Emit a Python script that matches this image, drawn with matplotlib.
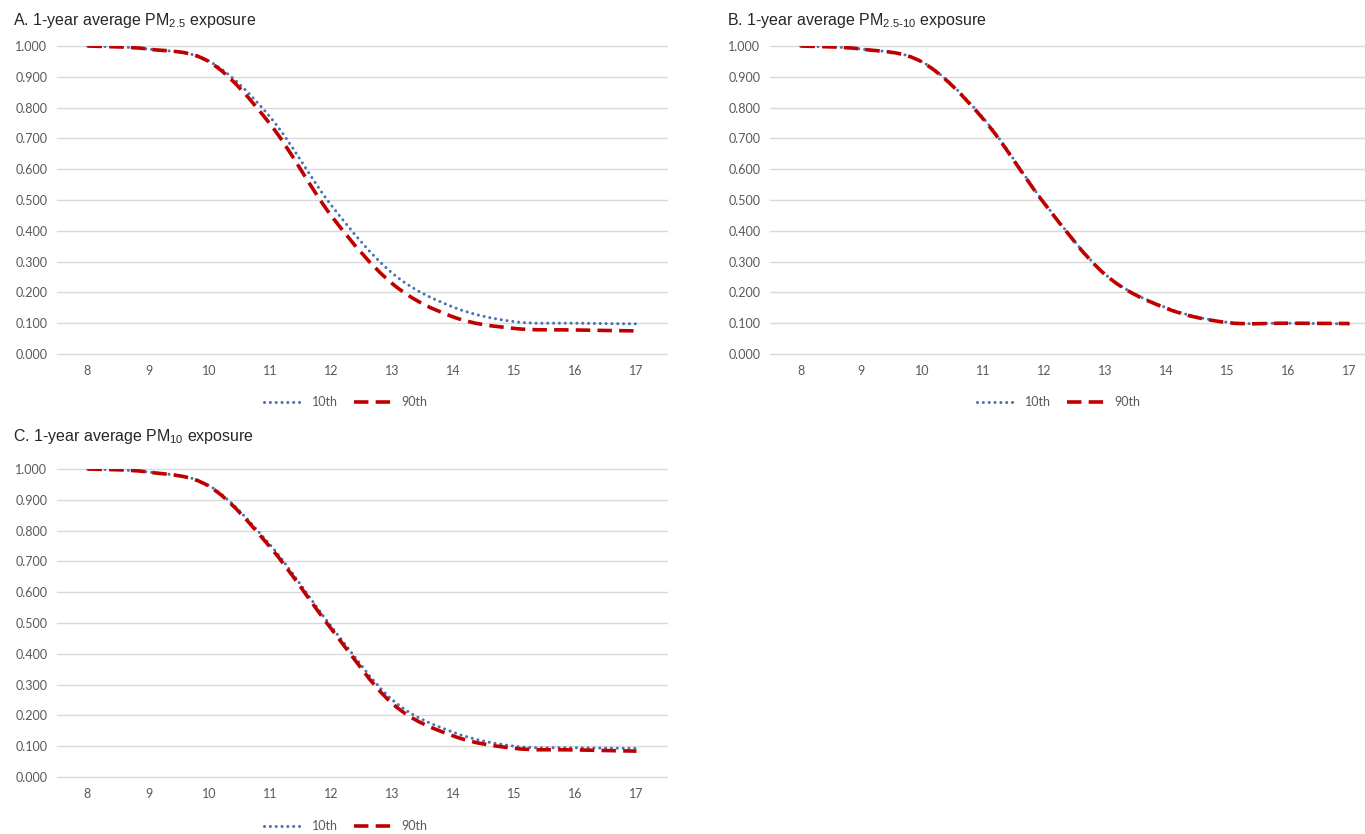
import matplotlib
matplotlib.use('Agg')
import matplotlib.pyplot as plt
from matplotlib.path import Path
from matplotlib.patches import PathPatch
from matplotlib.lines import Line2D

# exposure values (x axis) and survival-type curves for each pollutant
years = [8, 9, 10, 11, 12, 13, 14, 15, 16, 17]

pm25_p10 = [1.000, 0.990, 0.950, 0.768, 0.482, 0.262, 0.152, 0.105, 0.100, 0.098]
pm25_p90 = [1.000, 0.990, 0.948, 0.745, 0.448, 0.228, 0.120, 0.083, 0.078, 0.075]

pmc_p10 = [1.000, 0.990, 0.948, 0.765, 0.490, 0.258, 0.150, 0.103, 0.100, 0.098]
pmc_p90 = [1.000, 0.990, 0.947, 0.762, 0.488, 0.257, 0.148, 0.102, 0.100, 0.099]

pm10_p10 = [1.000, 0.990, 0.945, 0.752, 0.488, 0.250, 0.145, 0.100, 0.095, 0.093]
pm10_p90 = [1.000, 0.990, 0.943, 0.745, 0.480, 0.238, 0.133, 0.093, 0.088, 0.084]

titles = [r'A. 1-year average PM$_{\mathregular{2.5}}$ exposure',
          r'B. 1-year average PM$_{\mathregular{2.5\text{-}10}}$ exposure',
          r'C. 1-year average PM$_{\mathregular{10}}$ exposure']
series_names = ['10th', '90th']

blue = '#4A72B0'
red = '#C00000'
grid_col = '#D9D9D9'
tick_col = '#595959'
tick_font = 'Lato'
title_font = 'Liberation Sans'

W, H = 1365, 834

dot_style = dict(lw=2.2, ls=(0, (0.01, 1.9)))
dash_style = dict(lw=2.6, ls=(0, (4, 2)))


def smooth_path(x, y):
    # Bezier curve through the points, like a spreadsheet "smoothed line"
    n = len(x)
    verts = [(x[0], y[0])]
    codes = [Path.MOVETO]
    for i in range(n - 1):
        a = i - 1 if i > 0 else i
        b = i + 2 if i + 2 < n else i + 1
        c1 = (x[i] + (x[i + 1] - x[a]) / 6.0, y[i] + (y[i + 1] - y[a]) / 6.0)
        c2 = (x[i + 1] - (x[b] - x[i]) / 6.0, y[i + 1] - (y[b] - y[i]) / 6.0)
        verts += [c1, c2, (x[i + 1], y[i + 1])]
        codes += [Path.CURVE4] * 3
    return Path(verts, codes)


def draw_panel(ax, p10, p90):
    dots = PathPatch(smooth_path(years, p10), fill=False, ec=blue,
                     capstyle='round', **dot_style)
    dashes = PathPatch(smooth_path(years, p90), fill=False, ec=red,
                       capstyle='butt', **dash_style)
    ax.add_patch(dots)
    ax.add_patch(dashes)
    ax.set_xlim(7.5, 17.5)
    ax.set_ylim(0, 1.0)
    ax.set_xticks(years)
    ax.set_xticklabels([str(v) for v in years])
    ax.set_yticks([i / 10.0 for i in range(11)])
    ax.set_yticklabels(['%.3f' % (i / 10.0) for i in range(11)])
    ax.grid(axis='y', color=grid_col, lw=1.0)
    for gl in ax.get_ygridlines():
        gl.set_clip_on(False)
    ax.set_axisbelow(True)
    for s in ax.spines.values():
        s.set_visible(False)
    ax.tick_params(axis='both', length=0, colors=tick_col, labelsize=9)
    ax.tick_params(axis='y', pad=7)
    ax.tick_params(axis='x', pad=8)
    for lab in ax.get_xticklabels() + ax.get_yticklabels():
        lab.set_family(tick_font)


plt.rcParams['font.family'] = [title_font, 'DejaVu Sans']

fig = plt.figure(figsize=(W / 100.0, H / 100.0), dpi=100)
fig.patch.set_facecolor('white')

aw = 610.0 / W
ah = 308.0 / H
axA = fig.add_axes([57.0 / W, 1 - 354.0 / H, aw, ah])
axB = fig.add_axes([770.0 / W, 1 - 354.0 / H, aw, ah])
axC = fig.add_axes([57.0 / W, 1 - 777.0 / H, aw, ah])

draw_panel(axA, pm25_p10, pm25_p90)
draw_panel(axB, pmc_p10, pmc_p90)
draw_panel(axC, pm10_p10, pm10_p90)

# panel titles
title_pos = [(13, 21), (727, 21), (13, 437)]
for t, (tx, ty) in zip(titles, title_pos):
    fig.text(tx / W, 1 - ty / H, t, fontsize=11.5, color='#262626',
             family=title_font, ha='left', va='center')

# legends under each panel
handles = [Line2D([], [], color=blue, dash_capstyle='round', **dot_style),
           Line2D([], [], color=red, **dash_style)]
legend_pos = [(346, 402), (1059, 402), (346, 826)]
for lx, ly in legend_pos:
    leg = fig.legend(handles, series_names, loc='center',
                     bbox_to_anchor=(lx / W, 1 - ly / H), ncol=2, frameon=False,
                     handlelength=3.2, handletextpad=0.6, columnspacing=1.3,
                     prop={'family': tick_font, 'size': 9}, borderaxespad=0,
                     borderpad=0)
    for txt in leg.get_texts():
        txt.set_color(tick_col)

fig.savefig('out.png', dpi=100, facecolor='white')
